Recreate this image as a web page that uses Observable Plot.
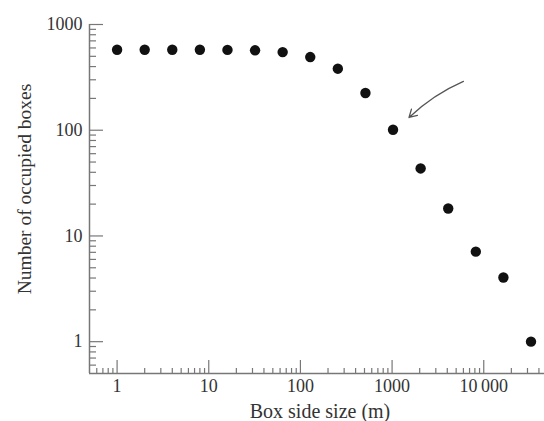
<!DOCTYPE html>
<html>
<head>
<meta charset="utf-8">
<script src="https://cdn.jsdelivr.net/npm/d3@7"></script>
<script src="https://cdn.jsdelivr.net/npm/@observablehq/plot@0.6"></script>
<style>
  html, body { margin: 0; padding: 0; background: #fff; }
  #chart { width: 544px; height: 421px; }
</style>
</head>
<body>
<div id="chart"></div>
<script>
// Data
const boxSize = [1, 2, 4, 8, 16, 32, 64, 128, 256, 512, 1024, 2048, 4096, 8192, 16384, 32768];
const occupied = [577, 577, 577, 577, 575, 570, 548, 492, 382, 225, 101, 43.5, 18.2, 7.1, 4.05, 1];

const xMajorTicks = [1, 10, 100, 1000, 10000];
const xTickLabels = ["1", "10", "100", "1000", "10\u2009000"];
const yMajorTicks = [1, 10, 100, 1000];
const yTickLabels = ["1", "10", "100", "1000"];
const minorMultipliers = [2, 3, 4, 5, 6, 7, 8, 9];

const xDomain = [0.5, 46000];
const yDomain = [0.5, 1000];

// arrow annotation (data coordinates)
const arrowFrom = {x: 6000, y: 290};
const arrowTo = {x: 1530, y: 132};

const xLabel = "Box side size (m)";
const yLabel = "Number of occupied boxes";

const xMinor = [0.1, 1, 10, 100, 1000, 10000].flatMap(d => minorMultipliers.map(m => d * m))
  .filter(v => v > xDomain[0] && v < xDomain[1] && !xMajorTicks.includes(v));
const yMinor = [0.1, 1, 10, 100].flatMap(d => minorMultipliers.map(m => d * m))
  .filter(v => v > yDomain[0] && v < yDomain[1] && !yMajorTicks.includes(v));

const data = boxSize.map((x, i) => ({x, y: occupied[i]}));

const axisColor = "#777";
const textColor = "#333";
const font = "'Liberation Serif', 'DejaVu Serif', serif";

const chart = Plot.plot({
  width: 544,
  height: 421,
  marginLeft: 89,
  marginRight: 0,
  marginTop: 24,
  marginBottom: 48,
  style: {fontFamily: font, background: "#fff"},
  x: {type: "log", domain: xDomain},
  y: {type: "log", domain: yDomain},
  marks: [
    Plot.ruleX([xDomain[0]], {stroke: axisColor, strokeWidth: 1.5}),
    Plot.ruleY([yDomain[0]], {stroke: axisColor, strokeWidth: 1.5}),
    // minor ticks
    Plot.axisX(xMinor, {anchor: "bottom", tickSize: -5, fill: "none", stroke: axisColor, strokeWidth: 1.2, label: null}),
    Plot.axisY(yMinor, {anchor: "left", tickSize: -7, fill: "none", stroke: axisColor, strokeWidth: 1.2, label: null}),
    // major ticks
    Plot.axisX(xMajorTicks, {anchor: "bottom", tickSize: -13, fill: "none", stroke: axisColor, strokeWidth: 1.2, label: null}),
    Plot.axisY(yMajorTicks, {anchor: "left", tickSize: -14, fill: "none", stroke: axisColor, strokeWidth: 1.2, label: null}),
    // tick labels
    Plot.axisX(xMajorTicks, {
      anchor: "bottom", tickSize: 0, tickPadding: 6, fontSize: 18, fill: textColor,
      tickFormat: (d) => xTickLabels[xMajorTicks.indexOf(d)], label: null
    }),
    Plot.axisY(yMajorTicks, {
      anchor: "left", tickSize: 0, tickPadding: 7, fontSize: 18, fill: textColor,
      tickFormat: (d) => yTickLabels[yMajorTicks.indexOf(d)], label: null
    }),
    // axis titles
    Plot.text([xLabel], {text: d => d, frameAnchor: "bottom", dx: 3, dy: 38, lineAnchor: "middle", fontSize: 20, fill: textColor}),
    Plot.text([yLabel], {text: d => d, frameAnchor: "left", dx: -65, dy: -10, rotate: -90, textAnchor: "middle", lineAnchor: "middle", fontSize: 19.5, fill: textColor}),
    Plot.arrow([{x1: arrowFrom.x, y1: arrowFrom.y, x2: arrowTo.x, y2: arrowTo.y}], {
      x1: "x1", y1: "y1", x2: "x2", y2: "y2", bend: -10, stroke: "#555", strokeWidth: 1.3, headLength: 10
    }),
    Plot.dot(data, {x: "x", y: "y", r: 5.2, fill: "#111", stroke: "none"})
  ]
});
document.getElementById("chart").appendChild(chart);
</script>
</body>
</html>
